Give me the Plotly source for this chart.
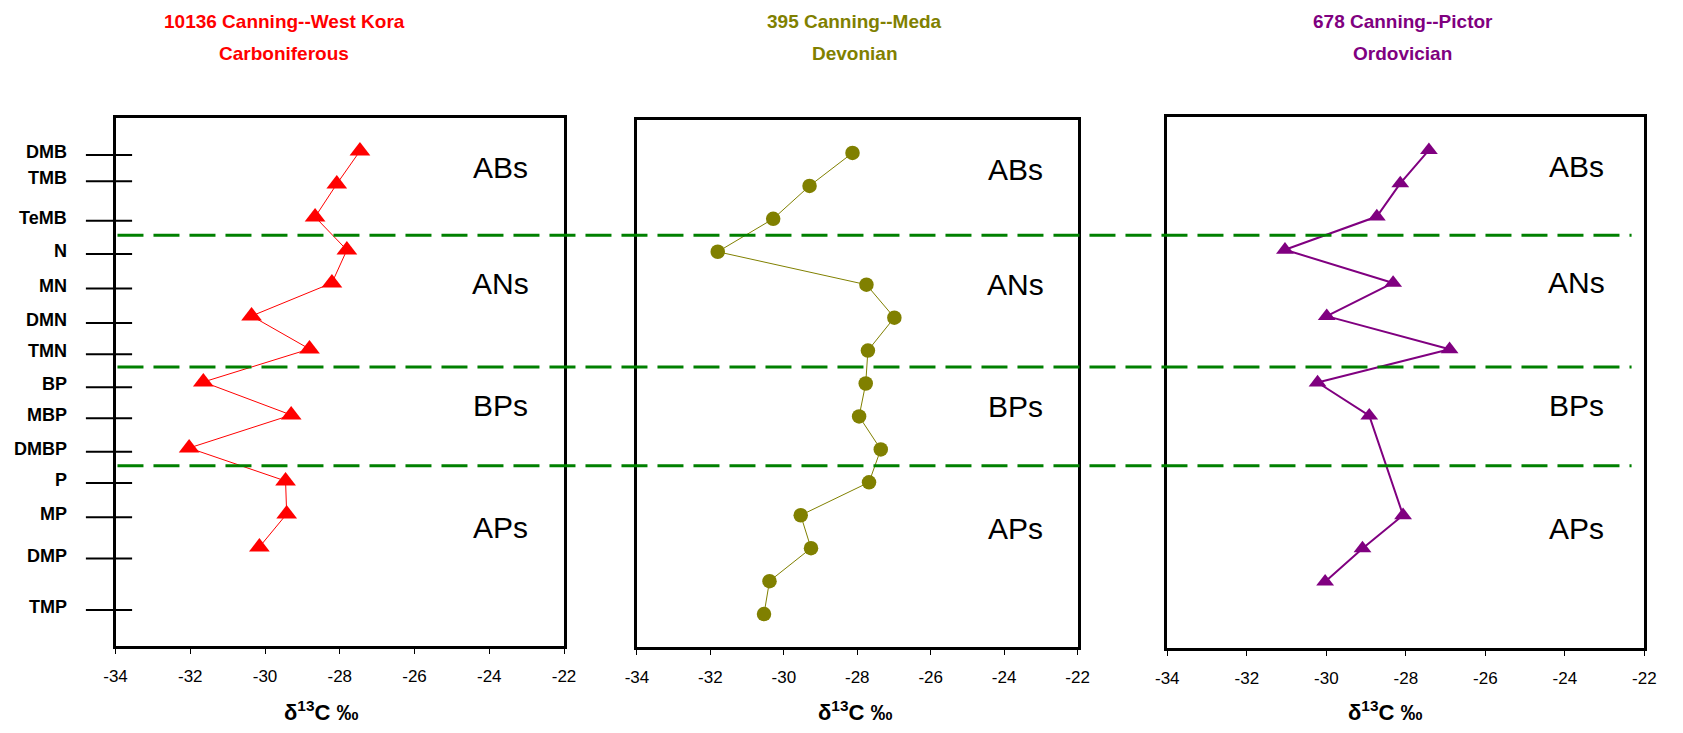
import plotly.graph_objects as go

W, H = 1683, 733

# ---------------- data ----------------
# panel 1: 10136 Canning--West Kora (Carboniferous)
sample_1 = [1, 2, 3, 4, 5, 6, 7, 8, 9, 10, 11, 12, 13]
d13c_1 = [-27.46, -28.08, -28.66, -27.81, -28.21, -30.36, -28.81,
          -31.65, -29.30, -32.03, -29.45, -29.42, -30.15]

# panel 2: 395 Canning--Meda (Devonian)
sample_2 = [1, 2, 3, 4, 5, 6, 7, 8, 9, 10, 11, 12, 13, 14, 15]
d13c_2 = [-28.13, -29.30, -30.29, -31.80, -27.75, -26.99, -27.71, -27.77,
          -27.95, -27.36, -27.68, -29.54, -29.26, -30.39, -30.54]

# panel 3: 678 Canning--Pictor (Ordovician)
sample_3 = [1, 2, 3, 4, 5, 6, 7, 8, 9, 12, 13, 14]
d13c_3 = [-27.42, -28.14, -28.73, -31.04, -28.32, -29.99, -26.90,
          -30.22, -28.92, -28.07, -29.09, -30.03]

titles_line1 = ["10136 Canning--West Kora", "395 Canning--Meda", "678 Canning--Pictor"]
titles_line2 = ["Carboniferous", "Devonian", "Ordovician"]
colors = ["#FF0000", "#808000", "#800080"]

x_tickvals = [-34, -32, -30, -28, -26, -24, -22]
x_ticktext = ["-34", "-32", "-30", "-28", "-26", "-24", "-22"]

# biomarker class labels on panel 1 axis
y_labels = ["DMB", "TMB", "TeMB", "N", "MN", "DMN", "TMN",
            "BP", "MBP", "DMBP", "P", "MP", "DMP", "TMP"]
y_label_pos = [1.12, 1.92, 3.11, 4.12, 5.17, 6.21, 7.16,
               8.16, 9.10, 10.11, 11.06, 12.10, 13.35, 14.91]

zone_names = ["ABs", "ANs", "BPs", "APs"]
zone_label_pos = [1.5, 5.0, 8.7, 12.4]
zone_bounds = [3.5, 7.5, 10.5]

# ---------------- layout geometry (pixels) ----------------
x_dom_px = [(105, 560), (634, 1081), (1172, 1656)]
y_dom_px = [(118, 646), (120, 647), (117, 648)]
title_cx = [276, 855, 1411]
xlabel_cx = [313, 855, 1393]

FONT = "Arial, Liberation Sans, sans-serif"

fig = go.Figure()

markers = [dict(symbol="triangle-up", size=18, color=colors[0]),
           dict(symbol="circle", size=14.5, color=colors[1]),
           dict(symbol="triangle-up", size=15.5, color=colors[2])]
line_w = [1, 1, 2]
series = [(d13c_1, sample_1), (d13c_2, sample_2), (d13c_3, sample_3)]

for i, (xs, ys) in enumerate(series):
    sfx = "" if i == 0 else str(i + 1)
    fig.add_trace(go.Scatter(
        x=xs, y=ys, xaxis="x" + sfx, yaxis="y" + sfx,
        mode="lines+markers",
        line=dict(color=colors[i], width=line_w[i]),
        marker=markers[i],
        hoverinfo="x+y", showlegend=False,
    ))

layout = dict(
    width=W, height=H, autosize=False,
    margin=dict(l=0, r=0, t=0, b=0, pad=0),
    paper_bgcolor="white", plot_bgcolor="white",
    showlegend=False,
    font=dict(family=FONT, color="black"),
)

for i in range(3):
    sfx = "" if i == 0 else str(i + 1)
    x0, x1 = x_dom_px[i]
    yt, yb = y_dom_px[i]
    layout["xaxis" + sfx] = dict(
        domain=[x0 / W, x1 / W], anchor="y" + sfx,
        range=[-34, -22], tickvals=x_tickvals, ticktext=x_ticktext,
        ticks="outside", ticklen=5, tickwidth=1, tickcolor="black",
        ticklabelstandoff=8,
        tickfont=dict(family=FONT, size=17, color="black"),
        showline=True, linewidth=3, linecolor="black", mirror=True,
        showgrid=False, zeroline=False, fixedrange=True,
    )
    layout["yaxis" + sfx] = dict(
        domain=[1 - yb / H, 1 - yt / H], anchor="x" + sfx,
        range=[16, 0], showticklabels=False, ticks="",
        showline=True, linewidth=3, linecolor="black", mirror=True,
        showgrid=False, zeroline=False, fixedrange=True,
    )

fig.update_layout(**layout)

annotations = []
shapes = []

# titles
for i in range(3):
    annotations.append(dict(
        xref="paper", yref="paper", x=title_cx[i] / W, y=1 - 21.7 / H,
        xanchor="center", yanchor="middle", showarrow=False,
        text="<b>" + titles_line1[i] + "</b>",
        font=dict(family=FONT, size=19, color=colors[i])))
    annotations.append(dict(
        xref="paper", yref="paper", x=title_cx[i] / W, y=1 - 53.3 / H,
        xanchor="center", yanchor="middle", showarrow=False,
        text="<b>" + titles_line2[i] + "</b>",
        font=dict(family=FONT, size=19, color=colors[i])))
    # x-axis titles
    annotations.append(dict(
        xref="paper", yref="paper", x=xlabel_cx[i] / W, y=1 - 711 / H,
        xanchor="center", yanchor="middle", showarrow=False,
        text="<b>δ<sup>13</sup>C ‰</b>",
        font=dict(family=FONT, size=22, color="black")))
    # zone labels
    sfx = "" if i == 0 else str(i + 1)
    for name, pos in zip(zone_names, zone_label_pos):
        annotations.append(dict(
            xref="x" + sfx, yref="y" + sfx, x=-23.7, y=pos,
            xanchor="center", yanchor="middle", showarrow=False,
            text=name, font=dict(family=FONT, size=30, color="black")))

# panel 1 y labels and crossing ticks
for lab, pos in zip(y_labels, y_label_pos):
    annotations.append(dict(
        xref="x domain", yref="y", x=-0.104, y=pos, yshift=3,
        xanchor="right", yanchor="middle", showarrow=False,
        text="<b>" + lab + "</b>",
        font=dict(family=FONT, size=18, color="black")))
    shapes.append(dict(
        type="line", xref="x domain", yref="y",
        x0=-0.066, x1=0.037, y0=pos, y1=pos,
        line=dict(color="black", width=2)))

# zone boundaries (dashed green lines across all panels)
for b in zone_bounds:
    shapes.append(dict(
        type="line", xref="paper", yref="y2",
        x0=107 / W, x1=1643 / W, y0=b, y1=b,
        line=dict(color="#008000", width=3, dash="26px,10px")))

fig.update_layout(annotations=annotations, shapes=shapes)

fig.write_html(
    "out.html",
    config={"responsive": False, "displayModeBar": False},
    post_script="document.body.style.margin='0';document.body.style.overflow='hidden';",
)
